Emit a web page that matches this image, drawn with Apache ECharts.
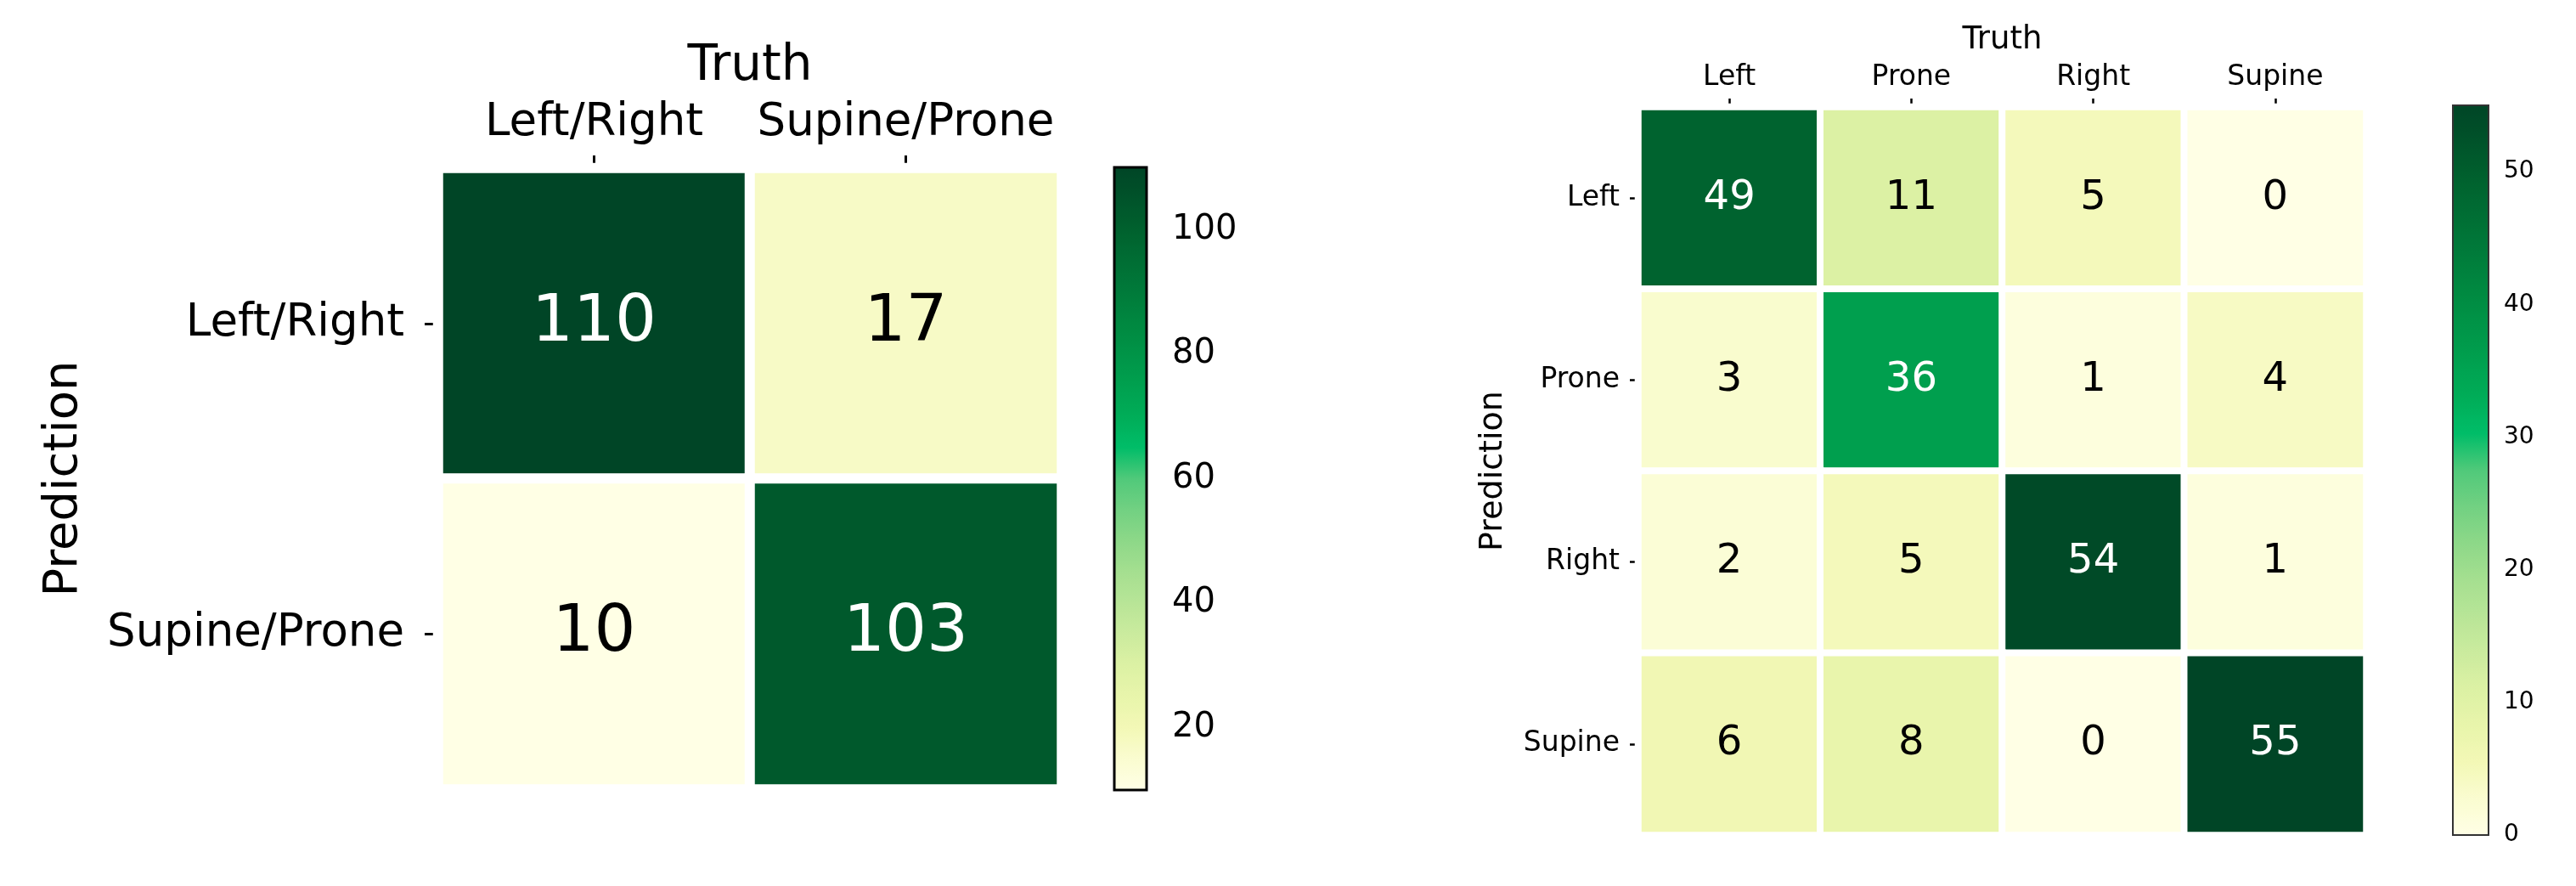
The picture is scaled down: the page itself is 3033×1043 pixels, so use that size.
<!DOCTYPE html>
<html>
<head>
<meta charset="utf-8">
<script src="https://cdn.jsdelivr.net/npm/echarts@6/dist/echarts.min.js"></script>
<style>
html, body { margin: 0; padding: 0; background: #fff; }
#main { width: 3033px; height: 1043px; }
</style>
</head>
<body>
<div id="main"></div>
<script>
// 左图：两类混淆矩阵 (行 = Prediction, 列 = Truth)
var binaryLabels = ['Left/Right', 'Supine/Prone'];
var binaryMatrix = [
    [110, 17],
    [10, 103]
];
var binaryMin = 10;
var binaryMax = 110;
var binaryTicks = [20, 40, 60, 80, 100];

// 右图：四类混淆矩阵
var postureLabels = ['Left', 'Prone', 'Right', 'Supine'];
var postureMatrix = [
    [49, 11, 5, 0],
    [3, 36, 1, 4],
    [2, 5, 54, 1],
    [6, 8, 0, 55]
];
var postureMin = 0;
var postureMax = 55;
var postureTicks = [0, 10, 20, 30, 40, 50];

// 色带 (浅黄 -> 亮绿 -> 深绿)
var greens = [
    '#ffffe5', '#fafcd0', '#f3f8b6', '#e8f5ab', '#dcf1a4', '#cbeb9e', '#b8e597',
    '#a5df90', '#8dd888', '#72d182', '#50c97a', '#00bd68', '#00ad58', '#00a04f',
    '#009447', '#008840', '#007a3a', '#006e34', '#00612e', '#00532a', '#004526'
];

var FONT = 'DejaVu Sans';

function buildCells(matrix, min, max) {
    var cells = [];
    var mid = (min + max) / 2;
    for (var r = 0; r < matrix.length; r++) {
        for (var c = 0; c < matrix[r].length; c++) {
            var v = matrix[r][c];
            cells.push({
                value: [c, r, v],
                label: {color: v > mid ? '#ffffff' : '#000000'}
            });
        }
    }
    return cells;
}

var chart = echarts.init(document.getElementById('main'));

var option = {
    backgroundColor: '#ffffff',
    animation: false,
    textStyle: {fontFamily: FONT},
    grid: [
        {left: 516, top: 198, width: 734, height: 731},
        {left: 1312, top: 197, width: 38, height: 733, show: true, z: 5,
            backgroundColor: 'transparent', borderColor: '#000', borderWidth: 3},
        {left: 1929, top: 126, width: 857, height: 857},
        {left: 2888, top: 124, width: 42, height: 859, show: true, z: 5,
            backgroundColor: 'transparent', borderColor: '#333', borderWidth: 2}
    ],
    xAxis: [
        {
            type: 'category', gridIndex: 0, position: 'top',
            data: binaryLabels,
            name: 'Truth', nameLocation: 'middle', nameGap: 90,
            nameTextStyle: {fontSize: 58, color: '#000', fontFamily: FONT},
            axisLine: {show: false},
            axisTick: {show: true, alignWithLabel: true, length: 15, lineStyle: {color: '#000', width: 3}},
            axisLabel: {interval: 0, fontSize: 53, color: '#000', margin: 26, fontFamily: FONT},
            splitLine: {show: false}
        },
        {type: 'value', gridIndex: 1, min: 0, max: 1, show: false},
        {
            type: 'category', gridIndex: 2, position: 'top',
            data: postureLabels,
            name: 'Truth', nameLocation: 'middle', nameGap: 60,
            nameTextStyle: {fontSize: 37, color: '#000', fontFamily: FONT},
            axisLine: {show: false},
            axisTick: {show: true, alignWithLabel: true, length: 10, lineStyle: {color: '#000', width: 2.5}},
            axisLabel: {interval: 0, fontSize: 33, color: '#000', margin: 18, fontFamily: FONT},
            splitLine: {show: false}
        },
        {type: 'value', gridIndex: 3, min: 0, max: 1, show: false}
    ],
    yAxis: [
        {
            type: 'category', gridIndex: 0, inverse: true,
            data: binaryLabels,
            name: 'Prediction', nameLocation: 'middle', nameGap: 413, nameRotate: 90,
            nameTextStyle: {fontSize: 56, color: '#000', fontFamily: FONT},
            axisLine: {show: false},
            axisTick: {show: true, alignWithLabel: true, length: 16, lineStyle: {color: '#000', width: 3}},
            axisLabel: {interval: 0, fontSize: 53, color: '#000', margin: 40, fontFamily: FONT},
            splitLine: {show: false}
        },
        {
            type: 'value', gridIndex: 1, position: 'right',
            min: binaryMin, max: binaryMax,
            axisLine: {show: false},
            splitLine: {show: false},
            axisTick: {show: true, length: 13, customValues: binaryTicks, lineStyle: {color: '#000', width: 3}},
            axisLabel: {fontSize: 40, color: '#000', margin: 30, customValues: binaryTicks, fontFamily: FONT}
        },
        {
            type: 'category', gridIndex: 2, inverse: true,
            data: postureLabels,
            name: 'Prediction', nameLocation: 'middle', nameGap: 152, nameRotate: 90,
            nameTextStyle: {fontSize: 38, color: '#000', fontFamily: FONT},
            axisLine: {show: false},
            axisTick: {show: true, alignWithLabel: true, length: 10, lineStyle: {color: '#000', width: 2.5}},
            axisLabel: {interval: 0, fontSize: 33, color: '#000', margin: 22, fontFamily: FONT},
            splitLine: {show: false}
        },
        {
            type: 'value', gridIndex: 3, position: 'right',
            min: postureMin, max: postureMax,
            axisLine: {show: false},
            splitLine: {show: false},
            axisTick: {show: true, length: 9, customValues: postureTicks, lineStyle: {color: '#222', width: 2}},
            axisLabel: {fontSize: 28, color: '#000', margin: 18, customValues: postureTicks, fontFamily: FONT}
        }
    ],
    visualMap: [
        {
            type: 'continuous', seriesIndex: 0,
            min: binaryMin, max: binaryMax,
            inRange: {color: greens},
            orient: 'vertical', left: 1312, top: 197,
            itemWidth: 38, itemHeight: 733,
            padding: 0, text: null, calculable: false, hoverLink: false,
            z: 1
        },
        {
            type: 'continuous', seriesIndex: 1,
            min: postureMin, max: postureMax,
            inRange: {color: greens},
            orient: 'vertical', left: 2888, top: 124,
            itemWidth: 42, itemHeight: 859,
            padding: 0, text: null, calculable: false, hoverLink: false,
            z: 1
        }
    ],
    series: [
        {
            type: 'heatmap', xAxisIndex: 0, yAxisIndex: 0,
            data: buildCells(binaryMatrix, binaryMin, binaryMax),
            itemStyle: {borderColor: '#ffffff', borderWidth: 12},
            label: {show: true, fontSize: 77, fontFamily: FONT},
            emphasis: {disabled: true}
        },
        {
            type: 'heatmap', xAxisIndex: 2, yAxisIndex: 2,
            data: buildCells(postureMatrix, postureMin, postureMax),
            itemStyle: {borderColor: '#ffffff', borderWidth: 8},
            label: {show: true, fontSize: 48, fontFamily: FONT},
            emphasis: {disabled: true}
        }
    ]
};

chart.setOption(option);
</script>
</body>
</html>
